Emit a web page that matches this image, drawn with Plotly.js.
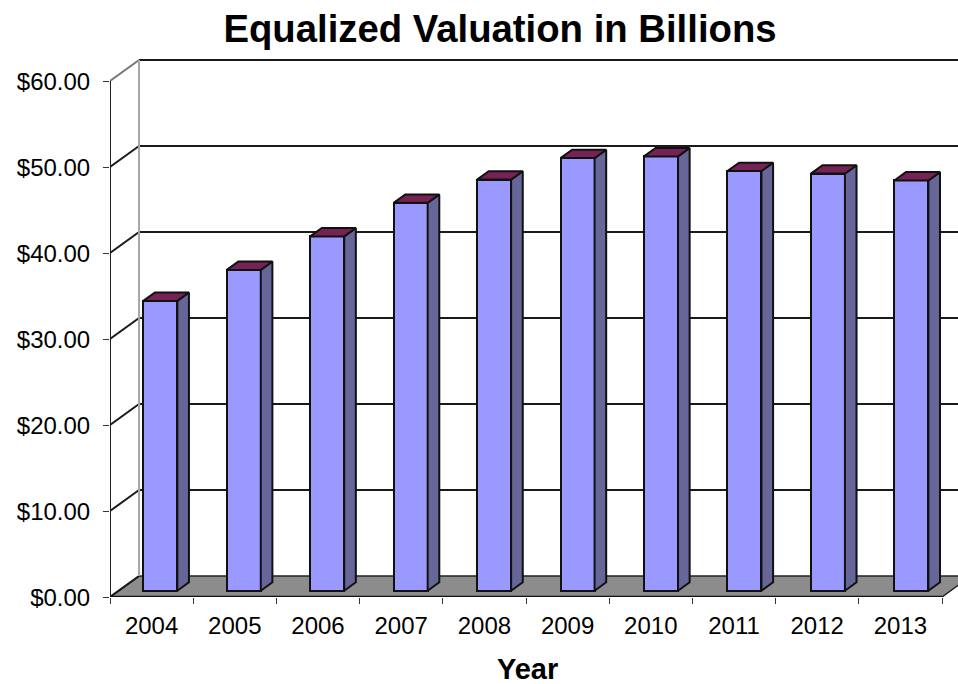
<!DOCTYPE html>
<html>
<head>
<meta charset="utf-8">
<script src="https://cdn.plot.ly/plotly-3.0.1.min.js"></script>
<style>html,body{margin:0;padding:0;background:#fff}#chart{width:958px;height:684px}</style>
</head>
<body>
<div id="chart"></div>
<script>
const years = ["2004","2005","2006","2007","2008","2009","2010","2011","2012","2013"];
const valuations = [33.7,37.3,41.2,45.1,47.8,50.3,50.5,48.8,48.5,47.7];
const gridValues = [0,10,20,30,40,50,60];
const gridLabels = ["$0.00","$10.00","$20.00","$30.00","$40.00","$50.00","$60.00"];

// Projection of the pseudo-3D box, in axis units (one x unit = one category slot)
const depthX = 0.349, depthY = 2.44;
const barInset = 0.3, barDepth = 0.4, barWidth = 0.409, barPitch = 1.003;
const edge = "#111111", gridCol = "#1a1a1a", wallCol = "#a6a6a6";

const baseY = barInset * depthY;
const barCenters = years.map((_, i) => i * barPitch + 0.5 + barInset * depthX);
const sideX = [], sideY = [], topX = [], topY = [];
valuations.forEach((v, i) => {
  const l = barCenters[i] - barWidth / 2, r = barCenters[i] + barWidth / 2;
  const ox = barDepth * depthX, oy = barDepth * depthY, t = v + baseY;
  sideX.push(r, r + ox, r + ox, r, r, null);
  sideY.push(baseY, baseY + oy, t + oy, t, baseY, null);
  topX.push(l, l + ox, r + ox, r, l, null);
  topY.push(t, t + oy, t + oy, t, t, null);
});

const shapes = [];
// floor
shapes.push({type:"path", layer:"below", xref:"x", yref:"y",
  path:`M0,0 L${depthX},${depthY} L${years.length + depthX},${depthY} L${years.length},0 Z`,
  fillcolor:"#8c8c8c", line:{color:"#222222", width:1.5}});
// back wall grid lines and slanted side wall lines
gridValues.forEach(v => {
  if (v > 0) shapes.push({type:"line", layer:"below", xref:"x", yref:"y",
    x0:depthX, x1:years.length + depthX, y0:v + depthY, y1:v + depthY,
    line:{color:gridCol, width:2}});
  shapes.push({type:"line", layer:"below", xref:"x", yref:"y",
    x0:0, x1:depthX, y0:v, y1:v + depthY,
    line:{color: v === 60 ? "#777777" : gridCol, width:2}});
});
// back wall vertical edge
shapes.push({type:"line", layer:"below", xref:"x", yref:"y",
  x0:depthX, x1:depthX, y0:depthY, y1:60 + depthY, line:{color:wallCol, width:2}});

const traces = [
  {type:"bar", x:barCenters, y:valuations, base:baseY, width:barWidth,
   marker:{color:"#9999ff", line:{color:edge, width:2}}, name:"Equalized Valuation",
   customdata:years, hovertemplate:"%{customdata}: $%{y:.2f}B<extra></extra>"},
  {type:"scatter", mode:"lines", x:sideX, y:sideY, fill:"toself", fillcolor:"#666699",
   line:{color:edge, width:2}, hoverinfo:"skip"},
  {type:"scatter", mode:"lines", x:topX, y:topY, fill:"toself", fillcolor:"#772255",
   line:{color:edge, width:2}, hoverinfo:"skip"},
  {type:"scatter", mode:"lines", x:[0,0], y:[0,60], cliponaxis:false,
   line:{color:"#222222", width:2}, hoverinfo:"skip"},
  {type:"scatter", mode:"lines", x:[0,years.length], y:[0,0], cliponaxis:false,
   line:{color:"#111111", width:2.5}, hoverinfo:"skip"}
];

const font = "'Liberation Sans', Arial, sans-serif";
const layout = {
  width:958, height:684, autosize:false, showlegend:false, bargap:0,
  paper_bgcolor:"#ffffff", plot_bgcolor:"#ffffff",
  margin:{l:110, r:0, t:50, b:87, pad:0},
  font:{family:font, color:"#000000"},
  title:{text:"<b>Equalized Valuation in Billions</b>", x:500/958, xanchor:"center",
         y:1-29/684, yanchor:"middle", font:{family:font, size:38.3, color:"#000"}},
  xaxis:{range:[0,(958-110)/83.2], showgrid:false, zeroline:false, showline:false,
    tickmode:"array", tickvals:years.map((_, i) => i + 0.5), ticktext:years,
    ticks:"", ticklabelstandoff:12, tickfont:{family:font, size:24, color:"#000"},
    minor:{tickmode:"array", tickvals:years.map((_, i) => i).concat(years.length),
           ticks:"outside", ticklen:6, tickcolor:"#333333", tickwidth:1, showgrid:false}},
  yaxis:{range:[0,(597-50)/8.6], showgrid:false, zeroline:false, showline:false,
    tickmode:"array", tickvals:gridValues, ticktext:gridLabels,
    ticks:"outside", ticklen:6, tickcolor:"#333333", tickwidth:1,
    ticklabelstandoff:8, ticklabelshift:1,
    tickfont:{family:font, size:24, color:"#000"}},
  shapes:shapes,
  annotations:[{text:"<b>Year</b>", xref:"paper", yref:"paper", x:(527-110)/848, y:-(669-597)/547,
    xanchor:"center", yanchor:"middle", showarrow:false, font:{family:font, size:29, color:"#000"}}]
};
Plotly.newPlot("chart", traces, layout, {displayModeBar:false, responsive:false});
</script>
</body>
</html>
